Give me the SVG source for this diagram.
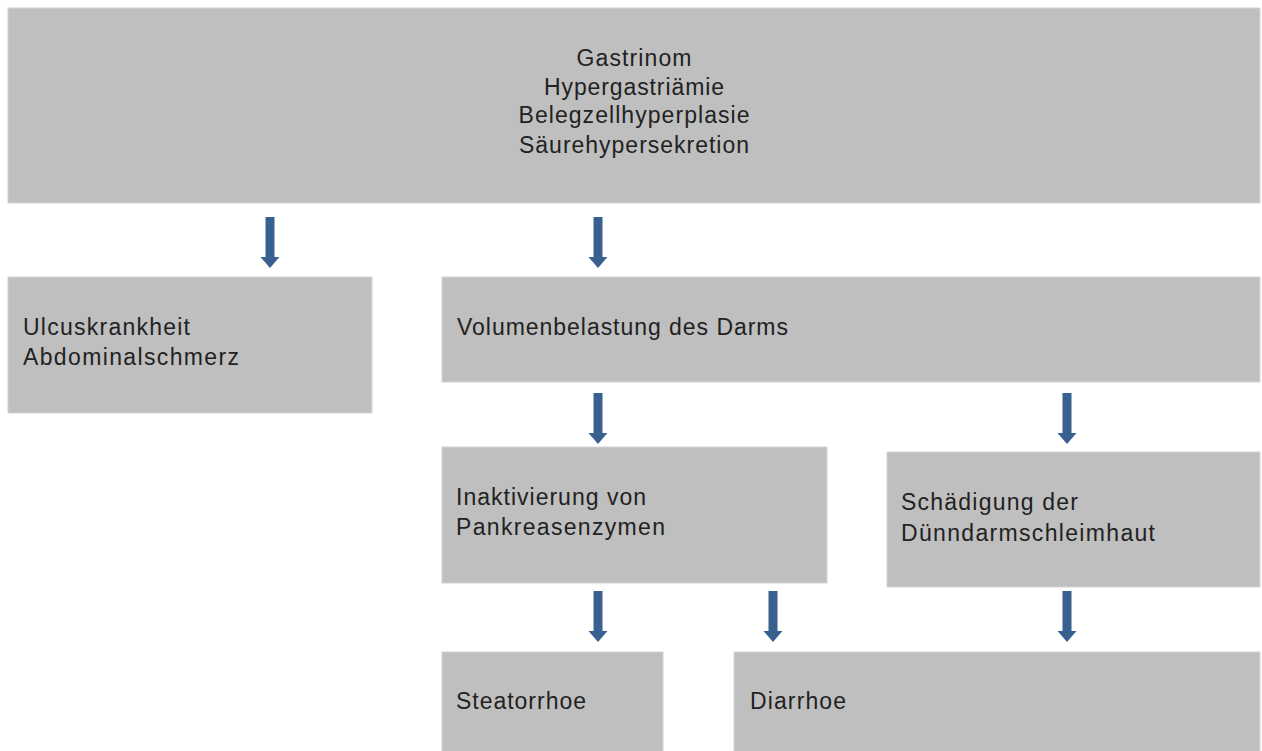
<svg xmlns="http://www.w3.org/2000/svg" width="1262" height="751" viewBox="0 0 1262 751">
<defs>
<style>
.box{fill:#bfbfbf;stroke:#d4d4d4;stroke-width:1}
.t{font-family:"Liberation Sans",Arial,sans-serif;font-size:23px;fill:#222222}
.c{text-anchor:middle}
.arr{fill:#386190}
</style>
<path id="ar" d="M-4.5,0 H4.5 V40 H9.5 L0,51 L-9.5,40 H-4.5 Z"/>
</defs>
<rect width="1262" height="751" fill="#ffffff"/>
<g id="n-top">
<rect class="box" x="8" y="8" width="1252" height="195"/>
<text class="t c" x="634" y="66" textLength="115" lengthAdjust="spacing">Gastrinom</text>
<text class="t c" x="634" y="95" textLength="180" lengthAdjust="spacing">Hypergastriämie</text>
<text class="t c" x="634" y="123" textLength="231" lengthAdjust="spacing">Belegzellhyperplasie</text>
<text class="t c" x="634" y="153" textLength="230" lengthAdjust="spacing">Säurehypersekretion</text>
</g>
<g id="n-ulcus">
<rect class="box" x="8" y="277" width="364" height="136"/>
<text class="t" x="23" y="335" textLength="167" lengthAdjust="spacing">Ulcuskrankheit</text>
<text class="t" x="23" y="365" textLength="216" lengthAdjust="spacing">Abdominalschmerz</text>
</g>
<g id="n-volumen">
<rect class="box" x="442" y="277" width="818" height="105"/>
<text class="t" x="457" y="335" textLength="331" lengthAdjust="spacing">Volumenbelastung des Darms</text>
</g>
<g id="n-inakt">
<rect class="box" x="442" y="447" width="385" height="136"/>
<text class="t" x="456" y="505" textLength="190" lengthAdjust="spacing">Inaktivierung von</text>
<text class="t" x="456" y="535" textLength="209" lengthAdjust="spacing">Pankreasenzymen</text>
</g>
<g id="n-schaed">
<rect class="box" x="887" y="452" width="373" height="135"/>
<text class="t" x="901" y="510" textLength="177" lengthAdjust="spacing">Schädigung der</text>
<text class="t" x="901" y="541" textLength="254" lengthAdjust="spacing">Dünndarmschleimhaut</text>
</g>
<g id="n-steat">
<rect class="box" x="442" y="652" width="221" height="110"/>
<text class="t" x="456" y="709" textLength="130" lengthAdjust="spacing">Steatorrhoe</text>
</g>
<g id="n-diarr">
<rect class="box" x="734" y="652" width="526" height="110"/>
<text class="t" x="750" y="709" textLength="96" lengthAdjust="spacing">Diarrhoe</text>
</g>
<g id="connectors" class="arr">
<use href="#ar" x="270" y="217"/>
<use href="#ar" x="598" y="217"/>
<use href="#ar" x="598" y="393"/>
<use href="#ar" x="1067" y="393"/>
<use href="#ar" x="598" y="591"/>
<use href="#ar" x="773" y="591"/>
<use href="#ar" x="1067" y="591"/>
</g>
</svg>
